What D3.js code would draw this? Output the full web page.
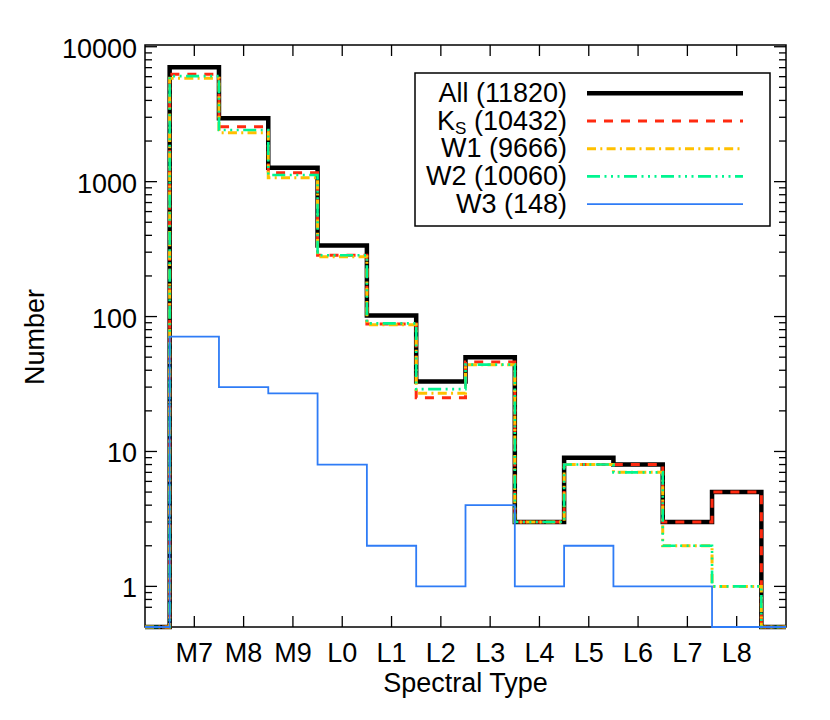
<!DOCTYPE html>
<html>
<head>
<meta charset="utf-8">
<script src="https://cdn.jsdelivr.net/npm/d3@7"></script>
<style>
  body { margin: 0; background: #fff; }
  svg text { font-family: "Liberation Sans", Arial, Helvetica, sans-serif; fill: #000; }
</style>
</head>
<body>
<svg width="830" height="720"></svg>
<script>
'use strict';

// spectral type bins and counts per band
var types = ["M7", "M8", "M9", "L0", "L1", "L2", "L3", "L4", "L5", "L6", "L7", "L8"];
var allCounts = [7050, 2950, 1270, 337, 102, 33, 50, 3, 9, 8, 3, 5];
var ksCounts = [6240, 2555, 1166, 285, 88, 25, 46, 3, 8, 8, 3, 5];
var w1Counts = [5833, 2306, 1071, 277, 87, 27, 44, 3, 8, 7, 2, 1];
var w2Counts = [6057, 2414, 1121, 285, 89, 29, 44, 3, 8, 7, 2, 1];
var w3Counts = [71, 30, 27, 8, 2, 1, 4, 1, 2, 1, 1, 0];
var seriesNames = ["All (11820)", "K|S| (10432)", "W1 (9666)", "W2 (10060)", "W3 (148)"];
var yTickValues = [1, 10, 100, 1000, 10000];

(function() {
  var svg = d3.select("svg");
  var pLeft = 145, pRight = 786, pTop = 45, pBottom = 627;

  var x = d3.scaleLinear().domain([-1, 12]).range([pLeft, pRight]);
  var y = d3.scaleLog().domain([0.5, 10300]).range([pBottom, pTop]);
  var floorVal = 0.5;

  // styles for each series (drawn in this order)
  var series = [
    {name: seriesNames[0], values: allCounts, color: "#000000", width: 4.5, dash: null},
    {name: seriesNames[1], values: ksCounts, color: "#ff2a10", width: 3, dash: "9,8"},
    {name: seriesNames[2], values: w1Counts, color: "#ffc000", width: 3, dash: "9,4.3,2,4.3"},
    {name: seriesNames[3], values: w2Counts, color: "#00f590", width: 2.6, dash: "13,4.5,2,4.5,2,4.5,2,4.5"},
    {name: seriesNames[4], values: w3Counts, color: "#2f7cf6", width: 1.8, dash: null}
  ];

  // frame
  svg.append("rect")
    .attr("x", pLeft).attr("y", pTop)
    .attr("width", pRight - pLeft).attr("height", pBottom - pTop)
    .attr("fill", "none").attr("stroke", "#000").attr("stroke-width", 1.5);

  // x ticks (bottom and top, pointing inward)
  var xt = svg.append("g").attr("stroke", "#000").attr("stroke-width", 1.3);
  types.forEach(function(t, i) {
    xt.append("line").attr("x1", x(i)).attr("x2", x(i)).attr("y1", pBottom).attr("y2", pBottom - 11);
    xt.append("line").attr("x1", x(i)).attr("x2", x(i)).attr("y1", pTop).attr("y2", pTop + 11);
  });
  svg.selectAll(".xlab")
    .data(types)
    .enter().append("text")
      .attr("class", "xlab")
      .attr("x", function(d, i) { return x(i); })
      .attr("y", 662)
      .attr("text-anchor", "middle")
      .attr("font-size", 27)
      .text(function(d) { return d; });

  // y ticks: majors at decades, minors in between
  var minors = [];
  [0.1, 1, 10, 100, 1000].forEach(function(dec) {
    for (var k = 2; k <= 9; k++) {
      var v = dec * k;
      if (v > 0.65 && v < 10300) minors.push(v);
    }
  });
  var yt = svg.append("g").attr("stroke", "#000").attr("stroke-width", 1.3);
  yTickValues.forEach(function(v) {
    yt.append("line").attr("x1", pLeft).attr("x2", pLeft + 12).attr("y1", y(v)).attr("y2", y(v));
    yt.append("line").attr("x1", pRight).attr("x2", pRight - 12).attr("y1", y(v)).attr("y2", y(v));
  });
  minors.forEach(function(v) {
    yt.append("line").attr("x1", pLeft).attr("x2", pLeft + 7).attr("y1", y(v)).attr("y2", y(v));
    yt.append("line").attr("x1", pRight).attr("x2", pRight - 7).attr("y1", y(v)).attr("y2", y(v));
  });
  svg.selectAll(".ylab")
    .data(yTickValues)
    .enter().append("text")
      .attr("class", "ylab")
      .attr("x", 137)
      .attr("y", function(d) { return y(d) + 11; })
      .attr("text-anchor", "end")
      .attr("font-size", 27)
      .text(function(d) { return d; });

  // axis titles
  svg.append("text")
    .attr("x", (pLeft + pRight) / 2).attr("y", 692)
    .attr("text-anchor", "middle").attr("font-size", 27)
    .text("Spectral Type");
  svg.append("text")
    .attr("transform", "translate(44,337) rotate(-90)")
    .attr("text-anchor", "middle").attr("font-size", 27)
    .text("Number");

  // histogram step lines
  function stepPoints(values) {
    var pts = [[-1, floorVal], [-0.5, floorVal]];
    values.forEach(function(v, i) {
      var vv = Math.max(v, floorVal);
      pts.push([i - 0.5, vv]);
      pts.push([i + 0.5, vv]);
    });
    pts.push([values.length - 0.5, floorVal]);
    pts.push([12, floorVal]);
    return pts;
  }
  var line = d3.line()
    .x(function(d) { return x(d[0]); })
    .y(function(d) { return y(d[1]); });

  series.forEach(function(s) {
    svg.append("path")
      .attr("d", line(stepPoints(s.values)))
      .attr("fill", "none")
      .attr("stroke", s.color)
      .attr("stroke-width", s.width)
      .attr("stroke-dasharray", s.dash);
  });

  // legend
  var lg = svg.append("g");
  lg.append("rect")
    .attr("x", 415).attr("y", 73).attr("width", 355).attr("height", 153)
    .attr("fill", "#fff").attr("stroke", "#000").attr("stroke-width", 1.5);
  series.forEach(function(s, i) {
    var cy = 93.3 + i * 27.7;
    var t = lg.append("text")
      .attr("x", 567).attr("y", cy + 8.5)
      .attr("text-anchor", "end").attr("font-size", 27);
    var parts = s.name.split("|");
    if (parts.length === 3) {
      t.append("tspan").text(parts[0]);
      t.append("tspan").attr("font-size", 17).attr("dy", 4).text(parts[1]);
      t.append("tspan").attr("dy", -4).text(parts[2]);
    } else {
      t.text(s.name);
    }
    lg.append("line")
      .attr("x1", 587).attr("x2", 743).attr("y1", cy).attr("y2", cy)
      .attr("stroke", s.color)
      .attr("stroke-width", s.width)
      .attr("stroke-dasharray", s.dash);
  });
})();
</script>
</body>
</html>
